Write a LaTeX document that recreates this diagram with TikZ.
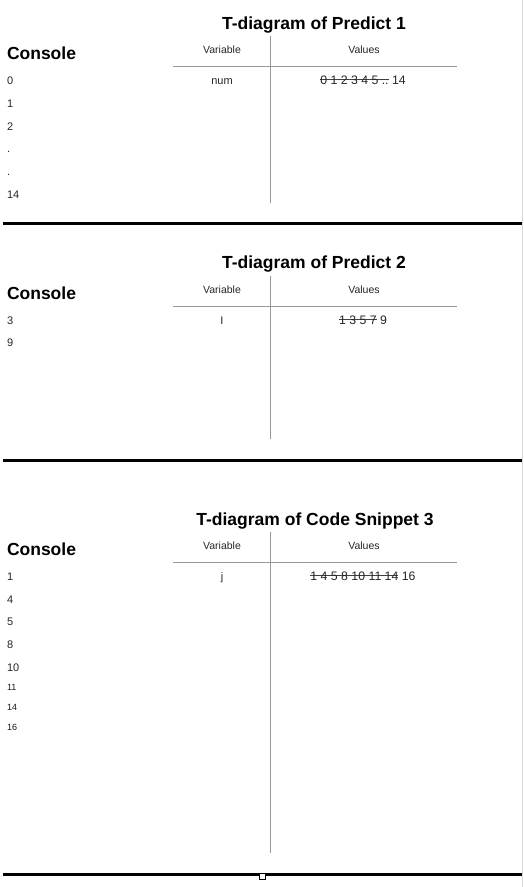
\documentclass[tikz,border=0pt]{standalone}
\usepackage{fontspec}
\setmainfont{Liberation Sans}
\newcommand\strk[1]{\setbox0=\hbox{#1}\rlap{\raisebox{0.34em}{\color{black!75}\rule{\wd0}{0.6pt}}}\box0}
\tikzset{
  txt/.style={inner sep=0pt, outer sep=0pt},
  ttl/.style={txt, anchor=base, font=\bfseries\fontsize{17.5}{20}\selectfont},
  conhead/.style={txt, anchor=base west, font=\bfseries\fontsize{17.5}{20}\selectfont},
  colhead/.style={txt, anchor=base, text=black!85, font=\fontsize{10.5}{12}\selectfont},
  cell/.style={txt, anchor=base, text=black!85, font=\fontsize{11}{13}\selectfont},
  vals/.style={txt, anchor=base, text=black!85, font=\fontsize{12.3}{14}\selectfont},
  con/.style={txt, anchor=base west, text=black!85, font=\fontsize{11}{13}\selectfont},
  consm/.style={txt, anchor=base west, text=black!90, font=\fontsize{9}{10}\selectfont},
  tline/.style={draw=black!40, line width=1pt},
  sepline/.style={draw=black, line width=3pt},
  edge/.style={draw=black!15, line width=1.2pt}
}
\begin{document}
\begin{tikzpicture}[x=1pt,y=-1pt]
\useasboundingbox (0,0) rectangle (523,887);
\fill[white] (0,0) rectangle (523,887);
\draw[edge] (522.3,0) -- (522.3,887);

% ---------- Section 1 ----------
\node[ttl] (t1) at (314,29) {T-diagram of Predict 1};
\node[conhead] (c1) at (7,59) {Console};
\node[colhead] (v1) at (222,53) {Variable};
\node[colhead] (w1) at (364,53) {Values};
\draw[tline] (270,36) -- (270,203);
\draw[tline] (173,66.5) -- (457,66.5);
\node[cell] (n1) at (222,84) {num};
\node[vals] (x1) at (363,84) {\strk{0 1 2 3 4 5 ..}\ 14};
\node[con] (a1) at (7,84) {0};
\node[con] (a2) at (7,107) {1};
\node[con] (a3) at (7,130) {2};
\node[con] (a4) at (7,152) {.};
\node[con] (a5) at (7,175) {.};
\node[con] (a6) at (7,198) {14};
\draw[sepline] (3,223) -- (521.5,223);

% ---------- Section 2 ----------
\node[ttl] (t2) at (314,268) {T-diagram of Predict 2};
\node[conhead] (c2) at (7,299) {Console};
\node[colhead] (v2) at (222,293) {Variable};
\node[colhead] (w2) at (364,293) {Values};
\draw[tline] (270,276) -- (270,439);
\draw[tline] (173,306.5) -- (457,306.5);
\node[cell] (n2) at (222,324) {I};
\node[vals] (x2) at (363,324) {\strk{1 3 5 7}\ 9};
\node[con] (b1) at (7,324) {3};
\node[con] (b2) at (7,346) {9};
\draw[sepline] (3,460) -- (521.5,460);

% ---------- Section 3 ----------
\node[ttl] (t3) at (315,525) {T-diagram of Code Snippet 3};
\node[conhead] (c3) at (7,555) {Console};
\node[colhead] (v3) at (222,549) {Variable};
\node[colhead] (w3) at (364,549) {Values};
\draw[tline] (270,532) -- (270,853);
\draw[tline] (173,562.5) -- (457,562.5);
\node[cell] (n3) at (222,580) {j};
\node[vals] (x3) at (363,580) {\strk{1 4 5 8 10 11 14}\ 16};
\node[con] (d1) at (7,580) {1};
\node[con] (d2) at (7,603) {4};
\node[con] (d3) at (7,625) {5};
\node[con] (d4) at (7,648) {8};
\node[con] (d5) at (7,671) {10};
\node[consm] (d6) at (7,690) {11};
\node[consm] (d7) at (7,710) {14};
\node[consm] (d8) at (7,730) {16};
\draw[sepline] (3,874.5) -- (521.5,874.5);
\node[draw=black, fill=white, line width=0.8pt, minimum size=5.5pt, inner sep=0pt] (hdl) at (262.3,876.3) {};
\end{tikzpicture}
\end{document}
